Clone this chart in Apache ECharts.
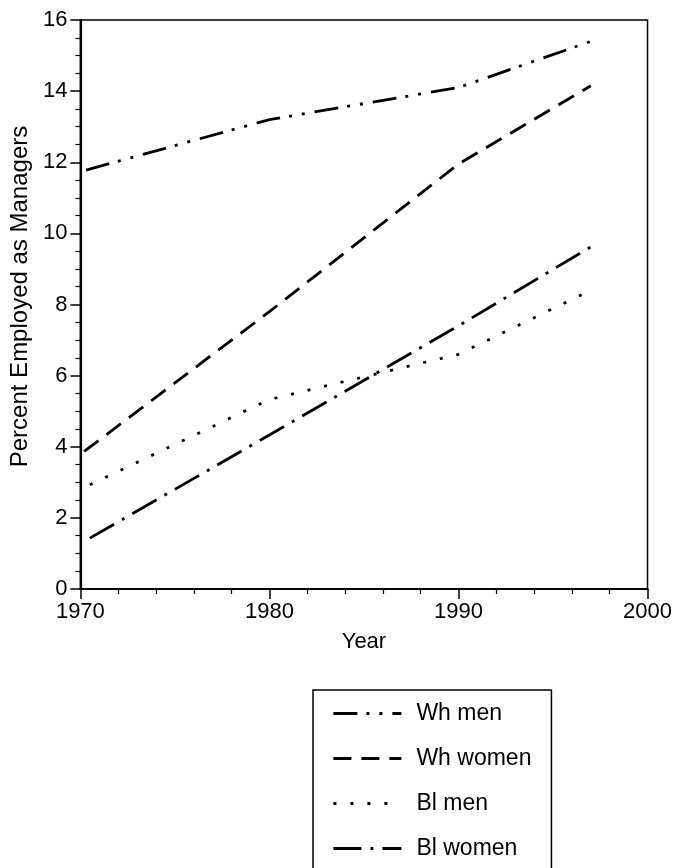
<!DOCTYPE html>
<html>
<head>
<meta charset="utf-8">
<script src="https://cdn.jsdelivr.net/npm/echarts@6/dist/echarts.min.js"></script>
<style>
  html, body { margin: 0; padding: 0; background: #fff; }
  #chart { width: 675px; height: 868px; }
</style>
</head>
<body>
<div id="chart"></div>
<script>
// ---- data ----
const seriesNames = ['Wh men', 'Wh women', 'Bl men', 'Bl women'];
const whMenYears   = [1970.3, 1980, 1990, 1997];
const whMen        = [11.78, 13.2, 14.1, 15.4];
const whWomenYears = [1970.2, 1980, 1990, 1997];
const whWomen      = [3.87, 7.8, 11.95, 14.15];
const blMenYears   = [1970.5, 1980, 1990, 1997];
const blMen        = [2.93, 5.33, 6.6, 8.4];
const blWomenYears = [1970.5, 1980, 1990, 1997];
const blWomen      = [1.43, 4.33, 7.4, 9.62];
const xTicks = [1970, 1980, 1990, 2000];
const yTicks = [0, 2, 4, 6, 8, 10, 12, 14, 16];

const FONT = "'Liberation Sans', Arial, Helvetica, sans-serif";
const pair = (xs, ys) => xs.map((x, i) => [x, ys[i]]);

const dashes = [
  [24, 9, 3, 10, 3, 10],   // dash-dot-dot
  [18, 10],                // dashed
  [3, 14],                 // dotted
  [28, 9, 3, 9]            // dash-dot
];
const datasets = [
  pair(whMenYears, whMen),
  pair(whWomenYears, whWomen),
  pair(blMenYears, blMen),
  pair(blWomenYears, blWomen)
];

const chart = echarts.init(document.getElementById('chart'), null, { renderer: 'canvas' });
chart.setOption({
  backgroundColor: '#fff',
  animation: false,
  grid: {
    left: 80, right: 26.5, top: 20, bottom: 279,
    show: true, borderColor: '#000', borderWidth: 1.5, backgroundColor: 'transparent'
  },
  xAxis: {
    type: 'value', min: xTicks[0], max: xTicks[xTicks.length - 1], interval: 10,
    name: 'Year', nameLocation: 'middle', nameGap: 42,
    nameTextStyle: { fontFamily: FONT, fontSize: 22, color: '#000' },
    axisLine: { show: true, lineStyle: { color: '#000', width: 2.2 } },
    axisTick: { show: true, length: 10, lineStyle: { color: '#000', width: 1.5 } },
    minorTick: { show: true, splitNumber: 5, length: 5, lineStyle: { color: '#000', width: 1.2 } },
    axisLabel: { fontFamily: FONT, fontSize: 22, color: '#000', margin: 12,
                 formatter: v => String(v) },
    splitLine: { show: false }
  },
  yAxis: {
    type: 'value', min: yTicks[0], max: yTicks[yTicks.length - 1], interval: 2,
    name: 'Percent Employed as Managers', nameLocation: 'middle', nameGap: 47,
    nameTextStyle: { fontFamily: FONT, fontSize: 24, color: '#000', padding: [0, 0, 0, 16] },
    axisLine: { show: true, lineStyle: { color: '#000', width: 2.2 } },
    axisTick: { show: true, length: 10, lineStyle: { color: '#000', width: 1.5 } },
    minorTick: { show: true, splitNumber: 4, length: 5, lineStyle: { color: '#000', width: 1.2 } },
    axisLabel: { fontFamily: FONT, fontSize: 22, color: '#000', margin: 13,
                 formatter: v => String(v) },
    splitLine: { show: false }
  },
  legend: {
    orient: 'vertical',
    left: 313, top: 690, height: 400,
    padding: [12, 20, 40, 19],
    itemWidth: 68, itemHeight: 14, itemGap: 22,
    borderColor: '#000', borderWidth: 1.5,
    backgroundColor: '#fff',
    itemStyle: { opacity: 0 },
    lineStyle: { width: 2.8 },
    textStyle: { fontFamily: FONT, fontSize: 23, color: '#000', padding: [0, 0, 0, 10] },
    data: seriesNames
  },
  series: seriesNames.map((name, i) => ({
    name: name,
    type: 'line',
    data: datasets[i],
    symbol: 'none',
    showSymbol: false,
    smooth: false,
    lineStyle: { color: '#000', width: 2.8, type: dashes[i], cap: 'butt' },
    itemStyle: { color: '#000' }
  }))
});
</script>
</body>
</html>
